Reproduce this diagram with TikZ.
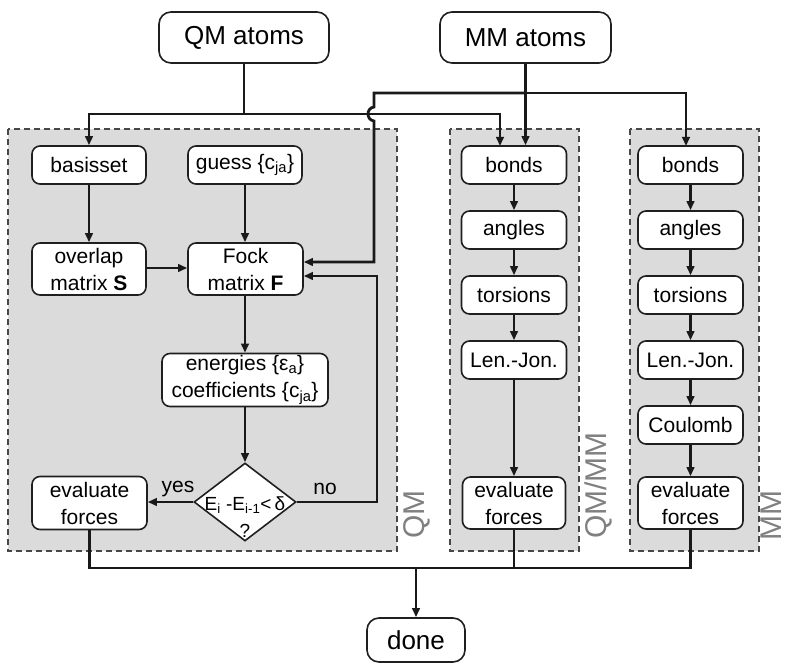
\documentclass[tikz,border=0pt]{standalone}
\usepackage{fontspec}
\setmainfont{Liberation Sans}
\usetikzlibrary{arrows.meta,shapes.geometric,calc}
\begin{document}
\begin{tikzpicture}[x=1pt,y=-1pt,
  box/.style={draw=black!88, line width=1.6pt, rounded corners=8pt, fill=white, inner sep=0pt, align=center, font=\fontsize{21}{27}\selectfont},
  bigbox/.style={box, rounded corners=12pt, font=\fontsize{26}{30}\selectfont},
  conn/.style={line width=2.8pt, draw=black!90},
  arr/.style={conn, -{Triangle[length=9pt,width=7.5pt]}},
  region/.style={draw=black!72, fill=black!14, dash pattern=on 6pt off 4pt, line width=1.4pt},
  rlabel/.style={rotate=90, anchor=west, text=black!50, font=\fontsize{30}{30}\selectfont, inner sep=0pt},
  lbl/.style={font=\fontsize{21}{24}\selectfont, inner sep=0pt}
]
\useasboundingbox (0,0) rectangle (786,663);

% regions
\draw[region] (8,129) rectangle (397,551);
\draw[region] (450,129) rectangle (579,551);
\draw[region] (630,129) rectangle (759,551);
\node[rlabel] (lqm) at (417,539) {QM};
\node[rlabel] (lqmmm) at (598,539) {QM/MM};
\node[rlabel] (lmm) at (771,541) {MM};

% top nodes
\node[bigbox, minimum width=170pt, minimum height=51pt] (QMatoms) at (244,37.5) {QM atoms};
\node[bigbox, minimum width=171pt, minimum height=51pt] (MMatoms) at (525.5,37.5) {MM atoms};

% QM column
\node[box, minimum width=114pt, minimum height=38pt] (basis) at (89,165) {basisset};
\node[box, minimum width=114pt, minimum height=38pt] (guess) at (245,165) {guess \{c\textsubscript{ja}\}};
\node[box, minimum width=114pt, minimum height=52pt] (overlap) at (89,269) {overlap\\matrix \textbf{S}};
\node[box, minimum width=115pt, minimum height=52pt] (fock) at (245.5,269) {Fock\\matrix \textbf{F}};
\node[box, minimum width=166pt, minimum height=53pt] (energies) at (245,380) {energies \{ε\textsubscript{a}\}\\coefficients \{c\textsubscript{ja}\}};
\node[diamond, draw=black!88, line width=1.6pt, fill=white, minimum width=102pt, minimum height=78pt, inner sep=0pt] (dia) at (245,502) {};
\node[font=\fontsize{19}{22}\selectfont, inner sep=0pt, anchor=base] (diat1) at (245,510) {E\textsubscript{i} -E\textsubscript{i-1}<\,δ};
\node[font=\fontsize{19}{22}\selectfont, inner sep=0pt, anchor=base] (diat2) at (245,537) {?};
\node[box, minimum width=115pt, minimum height=53pt] (evalQM) at (89.5,503) {evaluate\\forces};
\node[lbl] (yes) at (178,489) {yes};
\node[lbl] (no) at (325,489) {no};

% QM/MM column
\node[box, minimum width=105pt, minimum height=38pt] (b1) at (514,165) {bonds};
\node[box, minimum width=105pt, minimum height=38pt] (a1) at (514,230) {angles};
\node[box, minimum width=105pt, minimum height=38pt] (t1) at (514,295) {torsions};
\node[box, minimum width=105pt, minimum height=38pt] (l1) at (514,360) {Len.-Jon.};
\node[box, minimum width=103pt, minimum height=52pt] (e1) at (514,503) {evaluate\\forces};

% MM column
\node[box, minimum width=105pt, minimum height=38pt] (b2) at (690.5,165) {bonds};
\node[box, minimum width=105pt, minimum height=38pt] (a2) at (690.5,230) {angles};
\node[box, minimum width=105pt, minimum height=38pt] (t2) at (690.5,295) {torsions};
\node[box, minimum width=105pt, minimum height=38pt] (l2) at (690.5,360) {Len.-Jon.};
\node[box, minimum width=105pt, minimum height=38pt] (c2) at (690.5,425) {Coulomb};
\node[box, minimum width=105pt, minimum height=52pt] (e2) at (690.5,503) {evaluate\\forces};

% done
\node[bigbox, minimum width=98pt, minimum height=44pt] (done) at (416,640) {done};

% coordinates
\coordinate (qmj) at (244,114);
\coordinate (qmmmin) at (500,146);
\coordinate (mmj) at (525.5,93);
\coordinate (mmin2) at (686,146);
\coordinate (k1) at (374,93);
\coordinate (k2) at (374,107);
\coordinate (k3) at (374,121);
\coordinate (k4) at (374,262);
\coordinate (n1) at (377,502);
\coordinate (n2) at (377,276);
\coordinate (bot) at (0,568);

% QM atoms bus
\draw[conn] (QMatoms.south) -- (qmj);
\draw[arr] (qmj) -| (basis.north);
\draw[arr] (qmj) -| (qmmmin);

% MM atoms bus
\draw[arr] (MMatoms.south) -- (MMatoms.south |- b1.north);
\draw[arr] (mmj) -| (mmin2);
\draw[arr] (mmj) -- (k1) -- (k2) .. controls (366,108) and (366,120) .. (k3) -- (k4) -- ($(fock.east)+(0,-7)$);

% QM internal
\draw[arr] (basis) -- (overlap);
\draw[arr] (guess) -- (guess.south |- fock.north);
\draw[arr] ($(overlap.east)+(0,-1)$) -- ($(fock.west)+(0,-1)$);
\draw[arr] (fock.south -| energies.north) -- (energies.north);
\draw[arr] (energies) -- (dia.north);
\draw[arr] (dia.west) -- (dia.west -| evalQM.east);
\draw[arr] (dia.east) -- (n1) -- (n2) -- ($(fock.east)+(0,7)$);

% QM/MM chain
\draw[arr] (b1) -- (a1);
\draw[arr] (a1) -- (t1);
\draw[arr] (t1) -- (l1);
\draw[arr] (l1) -- (e1);

% MM chain
\draw[arr] (b2) -- (a2);
\draw[arr] (a2) -- (t2);
\draw[arr] (t2) -- (l2);
\draw[arr] (l2) -- (c2);
\draw[arr] (c2) -- (e2);

% collect
\draw[conn] (evalQM.south) -- (evalQM.south |- bot) -- (e2.south |- bot) -- (e2.south);
\draw[conn] (e1.south) -- (e1.south |- bot);
\draw[arr] (done.north |- bot) -- (done.north);
\end{tikzpicture}
\end{document}
